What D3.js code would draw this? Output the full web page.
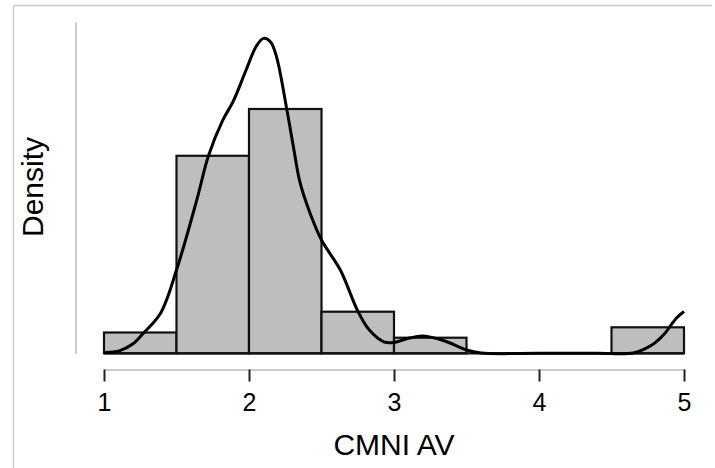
<!DOCTYPE html>
<html>
<head>
<meta charset="utf-8">
<script src="https://cdn.jsdelivr.net/npm/d3@7/dist/d3.min.js"></script>
<style>
  html, body { margin: 0; padding: 0; background: #fff; }
  svg { display: block; }
  text { font-family: "Liberation Sans", Arial, Helvetica, sans-serif; fill: #000; }
</style>
</head>
<body>
<svg id="chart" width="715" height="468"></svg>
<script>
// Histogram bins (left edges, width 0.5) and counts per bin
const binStarts = [1, 1.5, 2, 2.5, 3, 3.5, 4, 4.5];
const binWidth = 0.5;
const binCounts = [4, 38, 47, 8, 3, 0, 0, 5];

// Kernel density estimate, sampled along the x range
const kdeX = [1.00, 1.11, 1.20, 1.27, 1.39, 1.50, 1.64, 1.72, 1.82, 1.89, 1.98, 2.05, 2.10, 2.15, 2.19, 2.26, 2.31, 2.35, 2.42, 2.50, 2.63, 2.75, 2.83, 2.93, 3.00, 3.10, 3.20, 3.35, 3.50, 3.60, 4.00, 4.40, 4.65, 4.74, 4.80, 4.87, 4.90, 4.95, 5.00];
const kdeY = [0.003, 0.010, 0.035, 0.073, 0.147, 0.305, 0.562, 0.723, 0.855, 0.922, 1.038, 1.125, 1.154, 1.140, 1.086, 0.896, 0.745, 0.630, 0.515, 0.415, 0.305, 0.155, 0.085, 0.042, 0.040, 0.055, 0.063, 0.045, 0.012, 0.001, 0.000, 0.000, 0.001, 0.019, 0.038, 0.074, 0.096, 0.130, 0.153];

// Axis ticks and titles
const xTicks = [1, 2, 3, 4, 5];
const xTitle = "CMNI AV";
const yTitle = "Density";

const total = d3.sum(binCounts);
const binDensity = binCounts.map(c => c / (total * binWidth));

const svg = d3.select("#chart");

// Light frame around the figure
svg.append("line").attr("x1", 13.5).attr("x2", 13.5).attr("y1", 5.5).attr("y2", 468)
  .attr("stroke", "#cccccc").attr("stroke-width", 1.5);
svg.append("line").attr("x1", 13.5).attr("x2", 712).attr("y1", 5.5).attr("y2", 5.5)
  .attr("stroke", "#cccccc").attr("stroke-width", 1.5);

const x = d3.scaleLinear().domain([1, 5]).range([104, 684]);
const y = d3.scaleLinear().domain([0, 1.214]).range([353.3, 22]);

// Bars
svg.append("g").selectAll("rect")
  .data(binStarts.map((s, i) => ({ s, d: binDensity[i] })).filter(b => b.d > 0))
  .join("rect")
  .attr("x", b => x(b.s))
  .attr("y", b => y(b.d))
  .attr("width", b => x(b.s + binWidth) - x(b.s))
  .attr("height", b => y(0) - y(b.d))
  .attr("fill", "#bebebe")
  .attr("stroke", "#111")
  .attr("stroke-width", 2.2);

// Baseline under empty bins
svg.append("line")
  .attr("x1", x(1)).attr("x2", x(5))
  .attr("y1", y(0)).attr("y2", y(0))
  .attr("stroke", "#111").attr("stroke-width", 2.2);

// Density curve
const line = d3.line()
  .x((d, i) => x(kdeX[i]))
  .y((d, i) => y(kdeY[i]))
  .curve(d3.curveCatmullRom.alpha(0.5));
svg.append("path")
  .datum(kdeX)
  .attr("d", line)
  .attr("fill", "none")
  .attr("stroke", "#000")
  .attr("stroke-width", 3)
  .attr("stroke-linejoin", "round");

// Y axis: bare line, no ticks
const yAxis = svg.append("g")
  .attr("transform", "translate(75.5,0)")
  .call(d3.axisLeft(y).tickValues([]).tickSizeOuter(0));
yAxis.select(".domain").attr("stroke", "#bbbbbb").attr("stroke-width", 1.5);

// X axis
const xAxis = svg.append("g")
  .attr("transform", "translate(0,369.5)")
  .call(d3.axisBottom(x).tickValues(xTicks).tickFormat(d3.format("d")).tickSize(12).tickSizeOuter(0).tickPadding(12));
xAxis.select(".domain").attr("stroke", "#bbbbbb").attr("stroke-width", 1.5);
xAxis.selectAll(".tick line").attr("stroke", "#222").attr("stroke-width", 2);
xAxis.selectAll(".tick text")
  .attr("font-size", 25)
  .attr("font-family", "'Liberation Sans', Arial, sans-serif")
  .attr("fill", "#000");

// Titles
svg.append("text")
  .attr("x", 394).attr("y", 455)
  .attr("text-anchor", "middle")
  .attr("font-size", 30)
  .text(xTitle);

svg.append("text")
  .attr("transform", "translate(43,187) rotate(-90)")
  .attr("text-anchor", "middle")
  .attr("font-size", 30)
  .text(yTitle);
</script>
</body>
</html>
